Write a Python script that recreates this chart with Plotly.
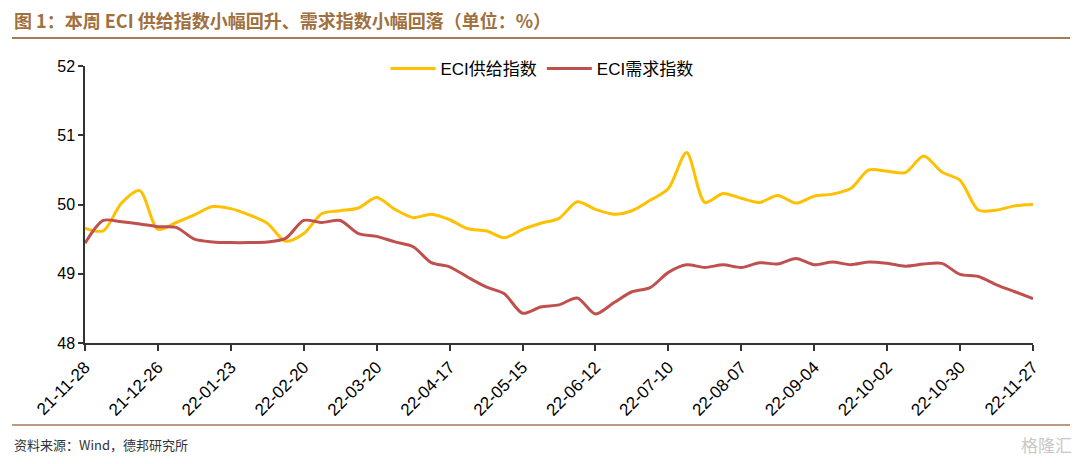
import plotly.graph_objects as go
import datetime as dt

start = dt.date(2021, 11, 28)
dates = [(start + dt.timedelta(weeks=i)).strftime("%y-%m-%d") for i in range(53)]

supply = [49.66, 49.62, 50.02, 50.20, 49.64, 49.74, 49.85, 49.97, 49.94, 49.85,
          49.73, 49.47, 49.58, 49.87, 49.91, 49.95, 50.10, 49.93, 49.81, 49.86,
          49.78, 49.65, 49.62, 49.52, 49.64, 49.73, 49.80, 50.04, 49.93, 49.86,
          49.91, 50.06, 50.23, 50.75, 50.03, 50.16, 50.09, 50.03, 50.13, 50.02,
          50.12, 50.15, 50.23, 50.50, 50.48, 50.46, 50.70, 50.47, 50.35, 49.92,
          49.92, 49.98, 50.00]
demand = [49.44, 49.77, 49.75, 49.72, 49.68, 49.67, 49.50, 49.46, 49.45, 49.45,
          49.46, 49.51, 49.77, 49.74, 49.77, 49.58, 49.54, 49.46, 49.39, 49.16,
          49.10, 48.95, 48.81, 48.71, 48.43, 48.52, 48.55, 48.65, 48.42, 48.58,
          48.74, 48.80, 49.02, 49.13, 49.09, 49.13, 49.09, 49.16, 49.14, 49.22,
          49.13, 49.17, 49.13, 49.17, 49.15, 49.11, 49.14, 49.15, 48.99, 48.96,
          48.84, 48.74, 48.64]

tick_idx = list(range(0, 53, 4))
tick_labels = [dates[i] for i in tick_idx]

font_main = "Liberation Sans, Arial, Noto Sans CJK SC, sans-serif"
font_cjk = "Noto Sans CJK SC, Liberation Sans, sans-serif"

# page offset (browser body margin)
OFF = 8
L, R, T, B = 85 - OFF, 1080 - (1033 - OFF), 66 - OFF, 464 - (343 - OFF)
PW, PH = 1080 - L - R, 464 - T - B


def px(xs):
    return (xs - OFF - L) / PW


def py(ys):
    return 1 - (ys - OFF - T) / PH


fig = go.Figure()
fig.add_trace(go.Scatter(x=list(range(53)), y=supply, mode="lines", name="ECI供给指数",
                         line=dict(color="#FFC000", width=3, shape="spline", smoothing=0.8)))
fig.add_trace(go.Scatter(x=list(range(53)), y=demand, mode="lines", name="ECI需求指数",
                         line=dict(color="#C0504D", width=3, shape="spline", smoothing=0.8)))

fig.update_layout(
    width=1080, height=464,
    margin=dict(l=L, r=R, t=T, b=B),
    paper_bgcolor="white", plot_bgcolor="white",
    font=dict(family=font_main, color="#000000"),
    showlegend=True,
    legend=dict(orientation="h", x=px(542), xanchor="center", y=py(69), yanchor="middle",
                font=dict(size=17, family=font_main), bgcolor="rgba(0,0,0,0)",
                itemwidth=45, tracegroupgap=0),
    xaxis=dict(range=[0, 52], tickmode="array", tickvals=tick_idx, ticktext=tick_labels,
               tickangle=-45, tickfont=dict(size=17, family=font_main),
               showgrid=False, zeroline=False, showline=True, linecolor="#333333", linewidth=1.5,
               ticks="outside", ticklen=6, tickcolor="#333333", tickwidth=1.5),
    yaxis=dict(range=[48, 52], tickvals=[48, 49, 50, 51, 52],
               tickfont=dict(size=16, family=font_main),
               showgrid=False, zeroline=False, showline=True, linecolor="#333333", linewidth=1.5,
               ticks="outside", ticklen=5, tickcolor="#333333", tickwidth=1.5),
    shapes=[
        dict(type="line", xref="paper", yref="paper", x0=px(12), x1=px(1070), y0=py(38), y1=py(38),
             line=dict(color="#A87A50", width=2)),
        dict(type="line", xref="paper", yref="paper", x0=px(12), x1=px(1070), y0=py(425), y1=py(425),
             line=dict(color="#A87A50", width=1.5)),
    ],
    annotations=[
        dict(text="<b>图 1：本周 ECI 供给指数小幅回升、需求指数小幅回落（单位：%）</b>",
             xref="paper", yref="paper", x=px(12), y=py(20),
             xanchor="left", yanchor="middle", showarrow=False,
             font=dict(size=18, color="#A0703F", family=font_cjk)),
        dict(text="资料来源：Wind，德邦研究所",
             xref="paper", yref="paper", x=px(12), y=py(444),
             xanchor="left", yanchor="middle", showarrow=False,
             font=dict(size=13, color="#333333", family=font_cjk)),
        dict(text="格隆汇",
             xref="paper", yref="paper", x=px(1074), y=py(444),
             xanchor="right", yanchor="middle", showarrow=False,
             font=dict(size=17, color="#C8C8C8", family=font_cjk)),
    ],
)

fig.write_html("out.html")
